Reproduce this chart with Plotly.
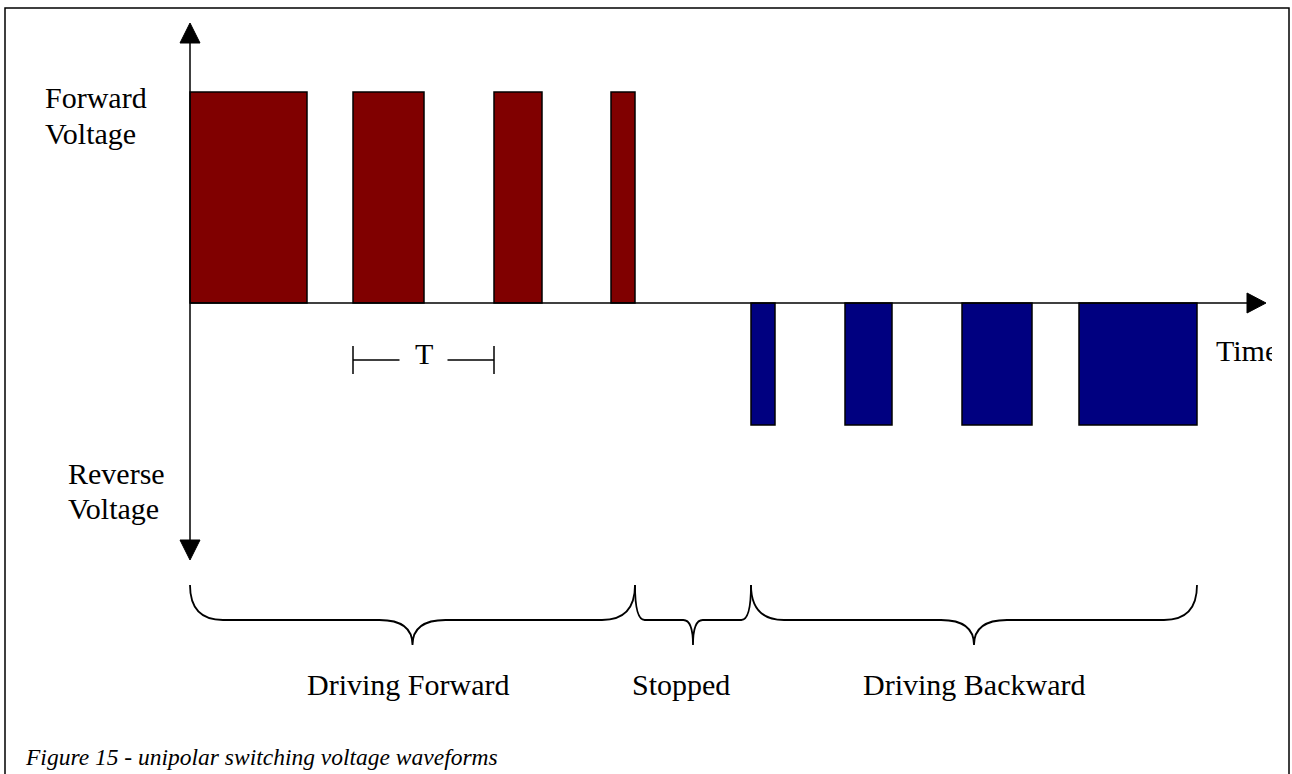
import plotly.graph_objects as go

# ---------------- data ----------------
fwd_start = [0, 163, 304, 421]        # forward pulse start times (arb. units)
fwd_end = [117, 234, 352, 445]        # forward pulse end times
rev_start = [561, 655, 772, 889]      # reverse pulse start times
rev_end = [585, 702, 842, 1007]       # reverse pulse end times
fwd_level = 1.0                        # forward voltage level
rev_level = -0.578                     # reverse voltage level
phase_labels = ["Driving Forward", "Stopped", "Driving Backward"]
phase_edges = [fwd_start[0], fwd_end[-1], rev_start[0], rev_end[-1]]
caption = "Figure 15 - unipolar switching voltage waveforms"

# ---------------- geometry (pixel <-> data) ----------------
W, H = 1292, 774
X0_PX, PX_PER_T = 190, 1.0
Y0_PX, PX_PER_V = 303, 211.0


def tx(px):
    return (px - X0_PX) / PX_PER_T


def vy(py):
    return (Y0_PX - py) / PX_PER_V


FONT = "Liberation Serif, Times New Roman, serif"
RED = "#800000"
BLUE = "#000080"

fig = go.Figure()

fig.add_trace(go.Bar(
    x=[(s + e) / 2 for s, e in zip(fwd_start, fwd_end)],
    y=[fwd_level] * len(fwd_start),
    width=[e - s for s, e in zip(fwd_start, fwd_end)],
    base=0,
    marker=dict(color=RED, line=dict(color="black", width=1.5)),
    showlegend=False, hoverinfo="skip",
))
fig.add_trace(go.Bar(
    x=[(s + e) / 2 for s, e in zip(rev_start, rev_end)],
    y=[rev_level] * len(rev_start),
    width=[e - s for s, e in zip(rev_start, rev_end)],
    base=0,
    marker=dict(color=BLUE, line=dict(color="black", width=1.5)),
    showlegend=False, hoverinfo="skip",
))

# "Time" label (clipped at right by a white mask)
fig.add_trace(go.Scatter(
    x=[tx(1216)], y=[vy(353)], mode="text", text=["Time"],
    textposition="middle right", textfont=dict(family=FONT, size=30, color="black"),
    showlegend=False, hoverinfo="skip", cliponaxis=False,
))

shapes = []
line_k = dict(color="black", width=1.5)

# vertical voltage axis
shapes.append(dict(type="line", xref="x", yref="y", x0=0, x1=0, y0=vy(43), y1=vy(540), line=line_k))
# horizontal time axis
shapes.append(dict(type="line", xref="x", yref="y", x0=0, x1=tx(1250), y0=0, y1=0, line=line_k))


def tri(pts):
    p = "M " + " L ".join(f"{a},{b}" for a, b in pts) + " Z"
    return dict(type="path", xref="x", yref="y", path=p, fillcolor="black",
                line=dict(color="black", width=1))


# arrow heads
shapes.append(tri([(tx(180), vy(43)), (tx(200), vy(43)), (tx(190), vy(23))]))
shapes.append(tri([(tx(180), vy(540)), (tx(200), vy(540)), (tx(190), vy(560))]))
shapes.append(tri([(tx(1247), vy(293)), (tx(1247), vy(313)), (tx(1266), vy(303))]))

# mask to clip "Time"
shapes.append(dict(type="rect", xref="x", yref="y", x0=tx(1272), x1=tx(1287), y0=vy(325), y1=vy(385),
                   fillcolor="white", line=dict(width=0), layer="above"))

# outer border
shapes.append(dict(type="rect", xref="x", yref="y", x0=tx(5), x1=tx(1289), y0=vy(8), y1=vy(800),
                   line=dict(color="black", width=1.5), fillcolor="rgba(0,0,0,0)"))

# period marker T
ta, tb = fwd_start[1], fwd_start[2]
tc = (ta + tb) / 2
for t in (ta, tb):
    shapes.append(dict(type="line", xref="x", yref="y", x0=t, x1=t, y0=vy(346), y1=vy(374), line=line_k))
shapes.append(dict(type="line", xref="x", yref="y", x0=ta, x1=tc - 24, y0=vy(360), y1=vy(360), line=line_k))
shapes.append(dict(type="line", xref="x", yref="y", x0=tc + 24, x1=tb, y0=vy(360), y1=vy(360), line=line_k))


# braces
def brace(a, b):
    r = min(33.0, (b - a) / 12.0)
    c = (a + b) / 2
    yt, yh, yc = vy(585), vy(620), vy(645)
    p = (f"M {a},{yt} Q {a},{yh} {a + r},{yh} L {c - r},{yh} Q {c},{yh} {c},{yc} "
         f"Q {c},{yh} {c + r},{yh} L {b - r},{yh} Q {b},{yh} {b},{yt}")
    return dict(type="path", xref="x", yref="y", path=p, line=dict(color="black", width=1.8))


for i in range(3):
    shapes.append(brace(phase_edges[i], phase_edges[i + 1]))

annotations = []


def txt(s, x, y, size=30, xanchor="left", italic=False):
    annotations.append(dict(
        text=f"<i>{s}</i>" if italic else s, x=x, y=y, xref="x", yref="y",
        xanchor=xanchor, yanchor="middle", showarrow=False,
        font=dict(family=FONT, size=size, color="black"),
    ))


txt("Forward", tx(43), vy(97))
txt("Voltage", tx(43), vy(133))
txt("Reverse", tx(66), vy(473))
txt("Voltage", tx(66), vy(508))
txt("T", tc, vy(353), xanchor="center")

label_offsets = [-5, -12, 0]
for i, lab in enumerate(phase_labels):
    c = (phase_edges[i] + phase_edges[i + 1]) / 2 + label_offsets[i]
    txt(lab, c, vy(684), xanchor="center")

txt(caption, tx(23), vy(757), size=23.5, italic=True)

fig.update_layout(
    width=W, height=H,
    margin=dict(l=0, r=0, t=0, b=0),
    paper_bgcolor="white", plot_bgcolor="white",
    barmode="overlay", bargap=0,
    xaxis=dict(range=[tx(0), tx(W)], visible=False, fixedrange=True),
    yaxis=dict(range=[vy(H), vy(0)], visible=False, fixedrange=True),
    shapes=shapes, annotations=annotations,
    showlegend=False,
)

fig.write_html(
    "out.html",
    config={"displayModeBar": False, "staticPlot": True},
    post_script="document.body.style.margin='0';document.body.style.overflow='hidden';",
)
